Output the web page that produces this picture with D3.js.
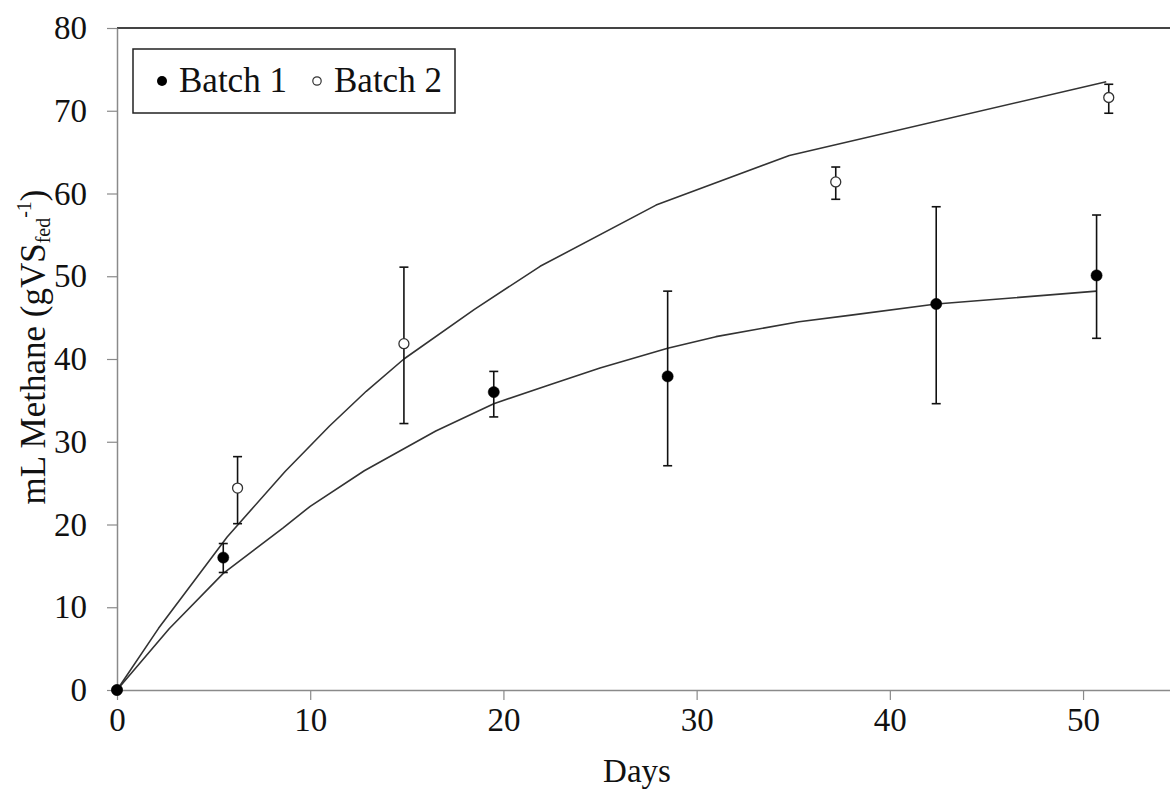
<!DOCTYPE html>
<html>
<head>
<meta charset="utf-8">
<script src="https://cdn.jsdelivr.net/npm/d3@7"></script>
<style>
  html, body { margin: 0; padding: 0; background: #fff; }
  svg { display: block; }
  text { font-family: "Liberation Serif", "Times New Roman", serif; fill: #111; }
</style>
</head>
<body>
<svg id="chart" width="1170" height="789"></svg>
<script>
// ---- data ----
const batch1Days   = [0, 5.5, 19.5, 28.5, 42.4, 50.7];
const batch1Values = [0, 16.0, 36.0, 37.9, 46.65, 50.1];
const batch1Low    = [0, 14.2, 33.0, 27.1, 34.6, 42.5];
const batch1High   = [0, 17.7, 38.5, 48.2, 58.4, 57.4];

const batch2Days   = [0, 6.24, 14.85, 37.2, 51.33];
const batch2Values = [0, 24.4, 41.85, 61.4, 71.6];
const batch2Low    = [0, 20.1, 32.2, 59.3, 69.7];
const batch2High   = [0, 28.2, 51.1, 63.2, 73.2];

const fit1Days   = [0, 2.7, 5.5, 8.6, 10, 12.8, 16.5, 19.5, 22.4, 25, 28.5, 31, 35.3, 38, 42.4, 50.7];
const fit1Values = [0, 7.4, 14.1, 19.6, 22.2, 26.5, 31.3, 34.6, 36.9, 38.9, 41.3, 42.7, 44.5, 45.3, 46.65, 48.2];

const fit2Days   = [0, 2.15, 5.7, 8.7, 11, 12.9, 14.85, 18.5, 21.9, 27.9, 34.8, 51.2];
const fit2Values = [0, 7.45, 18.5, 26.4, 31.9, 36.1, 40.0, 46.0, 51.2, 58.6, 64.6, 73.5];

const xTicks = [0, 10, 20, 30, 40, 50];
const yTicks = [0, 10, 20, 30, 40, 50, 60, 70, 80];
const seriesNames = ["Batch 1", "Batch 2"];

// ---- chart ----
const svg = d3.select("#chart");
const x = d3.scaleLinear().domain([0, 54.5]).range([117, 1170]);
const y = d3.scaleLinear().domain([0, 80]).range([690, 28]);

const axisColor = "#8a8a8a";
const font = "Liberation Serif, Times New Roman, serif";

// top border line
svg.append("line")
  .attr("x1", x(0)).attr("x2", 1170)
  .attr("y1", y(80)).attr("y2", y(80))
  .attr("stroke", "#444").attr("stroke-width", 2);

// x axis
const gx = svg.append("g").attr("transform", `translate(0,${y(0)})`)
  .call(d3.axisBottom(x).tickValues(xTicks).tickSize(10).tickSizeOuter(0).tickPadding(8).tickFormat(d3.format("d")));
gx.select(".domain").attr("stroke", axisColor).attr("stroke-width", 1.5);
gx.selectAll(".tick line").attr("stroke", axisColor).attr("stroke-width", 1.2);
gx.selectAll(".tick text").attr("font-size", 33).attr("fill", "#111").attr("font-family", font);

// y axis
const gy = svg.append("g").attr("transform", `translate(${x(0)},0)`)
  .call(d3.axisLeft(y).tickValues(yTicks).tickSize(10).tickSizeOuter(0).tickPadding(20).tickFormat(d3.format("d")));
gy.select(".domain").attr("stroke", axisColor).attr("stroke-width", 1.5);
gy.selectAll(".tick line").attr("stroke", axisColor).attr("stroke-width", 1.2);
gy.selectAll(".tick text").attr("font-size", 33).attr("fill", "#111").attr("font-family", font);

// fitted curves
const line = d3.line().x(d => x(d[0])).y(d => y(d[1]));
const fit1 = fit1Days.map((d, i) => [d, fit1Values[i]]);
const fit2 = fit2Days.map((d, i) => [d, fit2Values[i]]);
[fit1, fit2].forEach(pts => {
  svg.append("path").datum(pts).attr("d", line)
    .attr("fill", "none").attr("stroke", "#333").attr("stroke-width", 1.6)
    .attr("stroke-linejoin", "round");
});

// error bars + markers
function drawSeries(days, vals, lo, hi, filled) {
  const data = days.map((d, i) => ({d, v: vals[i], lo: lo[i], hi: hi[i]}));
  const g = svg.append("g");
  const eb = data.filter(p => p.hi - p.lo > 0);
  g.selectAll("line.v").data(eb).join("line")
    .attr("x1", p => x(p.d)).attr("x2", p => x(p.d))
    .attr("y1", p => y(p.lo)).attr("y2", p => y(p.hi))
    .attr("stroke", "#111").attr("stroke-width", 1.6);
  ["lo", "hi"].forEach(k => {
    g.selectAll("line.c" + k).data(eb).join("line")
      .attr("x1", p => x(p.d) - 4.5).attr("x2", p => x(p.d) + 4.5)
      .attr("y1", p => y(p[k])).attr("y2", p => y(p[k]))
      .attr("stroke", "#111").attr("stroke-width", 1.6);
  });
  g.selectAll("circle").data(data).join("circle")
    .attr("cx", p => x(p.d)).attr("cy", p => y(p.v))
    .attr("r", filled ? 5.6 : 5)
    .attr("fill", filled ? "#000" : "#fff")
    .attr("stroke", filled ? "#000" : "#333")
    .attr("stroke-width", filled ? 0.5 : 1.3);
}
drawSeries(batch2Days, batch2Values, batch2Low, batch2High, false);
drawSeries(batch1Days, batch1Values, batch1Low, batch1High, true);

// legend
const lg = svg.append("g");
lg.append("rect").attr("x", 133).attr("y", 49).attr("width", 322).attr("height", 64)
  .attr("fill", "#fff").attr("stroke", "#222").attr("stroke-width", 1.5);
lg.append("circle").attr("cx", 162).attr("cy", 81).attr("r", 5).attr("fill", "#000");
lg.append("text").attr("x", 179).attr("y", 92).attr("font-size", 35).text(seriesNames[0]);
lg.append("circle").attr("cx", 317).attr("cy", 81).attr("r", 4.2)
  .attr("fill", "#fff").attr("stroke", "#333").attr("stroke-width", 1.2);
lg.append("text").attr("x", 334).attr("y", 92).attr("font-size", 35).text(seriesNames[1]);

// axis titles
svg.append("text").attr("x", 637).attr("y", 782).attr("text-anchor", "middle")
  .attr("font-size", 33).text("Days");

const yl = svg.append("text")
  .attr("transform", "translate(45,347) rotate(-90)")
  .attr("text-anchor", "middle").attr("font-size", 35);
yl.append("tspan").text("mL Methane (gVS");
yl.append("tspan").attr("font-size", 20).attr("dy", 5).text("fed");
yl.append("tspan").attr("font-size", 20).attr("dy", -19).text("-1");
yl.append("tspan").attr("dy", 14).text(")");
</script>
</body>
</html>
